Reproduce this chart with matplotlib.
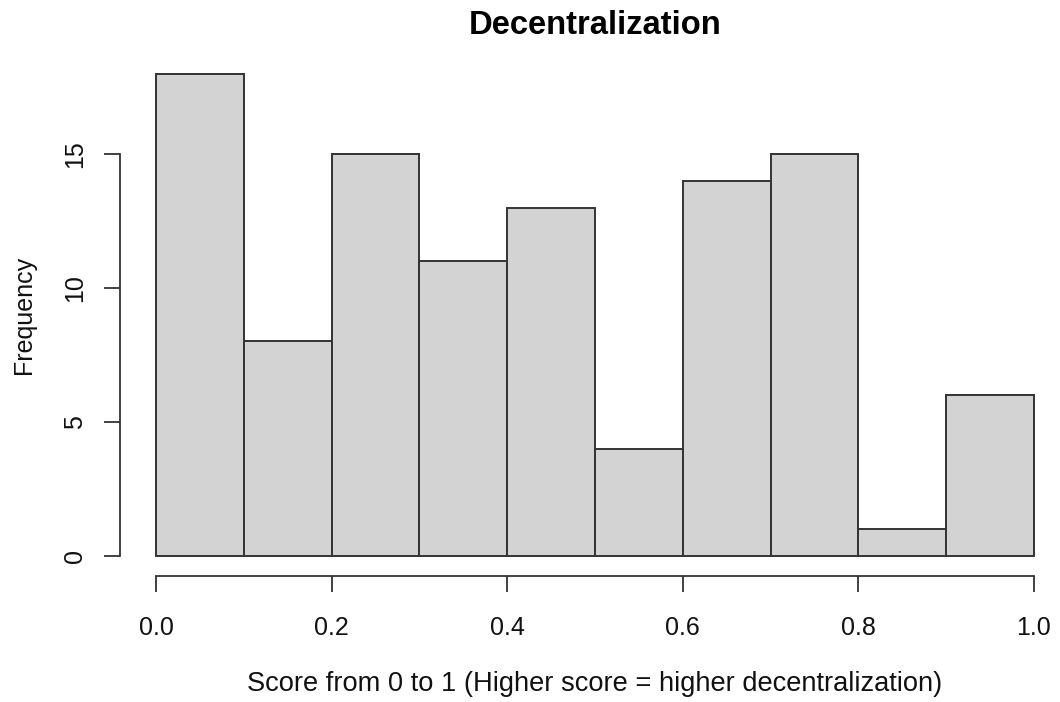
import numpy as np
import matplotlib
matplotlib.use("Agg")
import matplotlib.pyplot as plt

# histogram bins and counts
breaks = [0.0, 0.1, 0.2, 0.3, 0.4, 0.5, 0.6, 0.7, 0.8, 0.9, 1.0]
counts = [18, 8, 15, 11, 13, 4, 14, 15, 1, 6]
xticks = [0.0, 0.2, 0.4, 0.6, 0.8, 1.0]
xtick_labels = ["0.0", "0.2", "0.4", "0.6", "0.8", "1.0"]
yticks = [0, 5, 10, 15]

plt.rcParams['font.family'] = ['Liberation Sans', 'DejaVu Sans']

W, H = 1060, 702
fig = plt.figure(figsize=(W / 100, H / 100), dpi=100)
# plot region in pixels: x 156..1034 for 0..1, y 555.7..73.7 for 0..18
ax = fig.add_axes([156 / W, (H - 555.7) / H, (1034 - 156) / W, (555.7 - 73.7) / H])

left = np.array(breaks[:-1])
widths = np.diff(breaks)
ax.bar(left, counts, width=widths, align='edge', color='#d3d3d3',
       edgecolor='#333333', linewidth=1.4, clip_on=False)

ax.set_xlim(0, 1)
ax.set_ylim(0, 18)

for s in ['top', 'right']:
    ax.spines[s].set_visible(False)
ax.spines['left'].set_position(('outward', 36 * 0.72))
ax.spines['bottom'].set_position(('outward', 20 * 0.72))
ax.spines['left'].set_bounds(0, 15)
ax.spines['bottom'].set_bounds(0, 1)
for s in ['left', 'bottom']:
    ax.spines[s].set_color('#333333')
    ax.spines[s].set_linewidth(1.3)

ax.set_xticks(xticks)
ax.set_xticklabels(xtick_labels)
ax.set_yticks(yticks)
ax.set_yticklabels([str(v) for v in yticks], rotation=90, va='center')
ax.tick_params(axis='both', length=16 * 0.72, width=1.3, color='#333333',
               labelsize=18, labelcolor='#111111')
ax.tick_params(axis='x', pad=17.5)
ax.tick_params(axis='y', pad=12)

ax.set_xlabel("Score from 0 to 1 (Higher score = higher decentralization)",
              fontsize=19.6, color='#111111', labelpad=22.5)
ax.set_ylabel("Frequency", fontsize=18, color='#111111', labelpad=19.5)
fig.text(595 / W, 1 - 26 / H, "Decentralization", fontsize=23.6, fontweight='bold',
         ha='center', va='center')

fig.savefig("out.png", dpi=100)
